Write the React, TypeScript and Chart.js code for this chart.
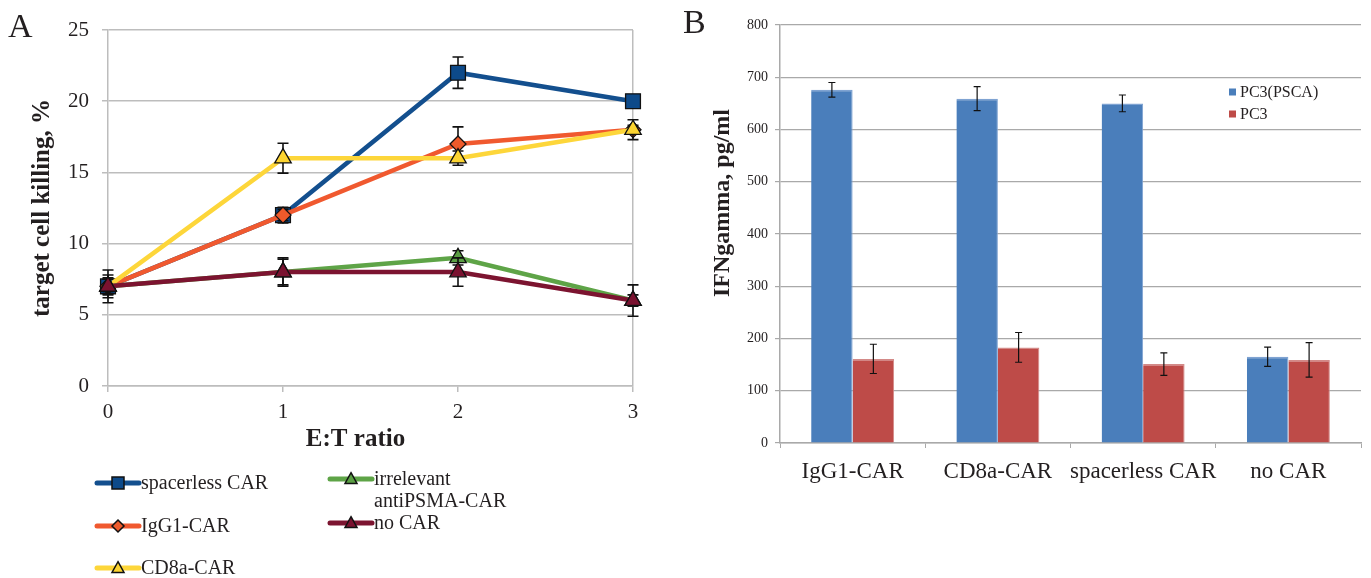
import React, { useEffect, useRef } from 'react';
import { Chart, registerables } from 'chart.js';

Chart.register(...registerables);

// ---------- Panel A data ----------
const ratioLabels = ['0', '1', '2', '3'];
const spacerless = [7, 12, 22, 20];
const spacerlessErr = [0.6, 0.55, 1.1, 0.3];
const igg1 = [7, 12, 17, 18];
const igg1Err = [0.5, 0.4, 1.2, 0.3];
const cd8a = [7, 16, 16, 18];
const cd8aErr = [0.5, 1.05, 0.5, 0.7];
const irrelevant = [7, 8, 9, 6];
const irrelevantErr = [0.8, 1.0, 0.5, 0.4];
const noCar = [7, 8, 8, 6];
const noCarErr = [1.15, 0.9, 1.0, 1.1];

// ---------- Panel B data ----------
const groups = ['IgG1-CAR', 'CD8a-CAR', 'spacerless CAR', 'no CAR'];
const pc3psca = [676, 659, 650, 165];
const pc3pscaErr = [14, 23, 16, 18.5];
const pc3 = [161, 183, 151, 159];
const pc3Err = [28, 28.5, 21.5, 33];

const SERIF = "'Liberation Serif', 'Times New Roman', serif";
const TXT = '#231f20';

function drawErrors(chart: any, i: number, o: any) {
  const ds: any = chart.data.datasets[i];
  const errs: number[] = ds.errorBars;
  if (!errs) return;
  const meta = chart.getDatasetMeta(i);
  if (meta.hidden) return;
  const ys = chart.scales[meta.yAxisID];
  const ctx = chart.ctx;
  ctx.save();
  ctx.strokeStyle = o.color || '#000';
  ctx.lineWidth = o.width || 1.2;
  meta.data.forEach((el: any, j: number) => {
    const v = ds.data[j];
    const e = errs[j];
    if (v == null || e == null) return;
    const x = el.x;
    const yt = ys.getPixelForValue(v + e);
    const yb = ys.getPixelForValue(v - e);
    const c = o.cap || 4;
    ctx.beginPath();
    ctx.moveTo(x, yt);
    ctx.lineTo(x, yb);
    ctx.moveTo(x - c, yt);
    ctx.lineTo(x + c, yt);
    ctx.moveTo(x - c, yb);
    ctx.lineTo(x + c, yb);
    ctx.stroke();
  });
  ctx.restore();
}

const errorBarPlugin = {
  id: 'errorBars',
  beforeDatasetDraw(chart: any, args: any, o: any) {
    if (o.mode === 'before') drawErrors(chart, args.index, o);
  },
  afterDatasetsDraw(chart: any, _a: any, o: any) {
    if (o.mode === 'after') chart.data.datasets.forEach((_d: any, i: number) => drawErrors(chart, i, o));
  },
};

const panelLetterPlugin = {
  id: 'panelLetter',
  afterDraw(chart: any, _a: any, o: any) {
    const ctx = chart.ctx;
    ctx.save();
    ctx.font = `${o.size}px ${SERIF}`;
    ctx.fillStyle = TXT;
    ctx.textBaseline = 'alphabetic';
    ctx.textAlign = 'left';
    ctx.fillText(o.text, o.x, o.y);
    ctx.restore();
  },
};

// axis titles placed slightly off-centre, as in the reference
const axisTitlePlugin = {
  id: 'axisTitles',
  afterDraw(chart: any, _a: any, o: any) {
    if (!o || !o.items) return;
    const ctx = chart.ctx;
    const ca = chart.chartArea;
    o.items.forEach((it: any) => {
      ctx.save();
      ctx.font = `bold ${it.size}px ${SERIF}`;
      ctx.fillStyle = TXT;
      ctx.textAlign = 'center';
      ctx.textBaseline = 'middle';
      if (it.vertical) {
        ctx.translate(it.x, ca.top + it.dy);
        ctx.rotate(-Math.PI / 2);
      } else {
        ctx.translate((ca.left + ca.right) / 2 + it.dx, ca.bottom + it.dy);
      }
      ctx.fillText(it.text, 0, 0);
      ctx.restore();
    });
  },
};

function drawMarker(ctx: any, style: string, x: number, y: number, r: number) {
  ctx.beginPath();
  if (style === 'rect') {
    ctx.rect(x - r, y - r, 2 * r, 2 * r);
  } else if (style === 'rectRot') {
    ctx.moveTo(x - r, y);
    ctx.lineTo(x, y - r);
    ctx.lineTo(x + r, y);
    ctx.lineTo(x, y + r);
    ctx.closePath();
  } else {
    ctx.moveTo(x, y - r * 1.05);
    ctx.lineTo(x + r, y + r * 0.75);
    ctx.lineTo(x - r, y + r * 0.75);
    ctx.closePath();
  }
  ctx.fill();
  ctx.stroke();
}

const lineLegendPlugin = {
  id: 'lineLegend',
  afterDraw(chart: any, _a: any, o: any) {
    const ctx = chart.ctx;
    ctx.save();
    ctx.font = `${o.fontSize}px ${SERIF}`;
    chart.data.datasets.forEach((ds: any, i: number) => {
      const [x, y] = o.slots[i];
      ctx.strokeStyle = ds.borderColor;
      ctx.lineWidth = 5;
      ctx.lineCap = 'round';
      ctx.beginPath();
      ctx.moveTo(x, y);
      ctx.lineTo(x + o.lineLen, y);
      ctx.stroke();
      ctx.lineCap = 'butt';
      ctx.fillStyle = ds.pointBackgroundColor;
      ctx.strokeStyle = '#111';
      ctx.lineWidth = 1.5;
      drawMarker(ctx, ds.pointStyle, x + o.lineLen / 2, y, 6);
      const words = String(ds.label).split(' ');
      const lines: string[] = [];
      let cur = '';
      words.forEach((w) => {
        const t = cur ? cur + ' ' + w : w;
        if (cur && ctx.measureText(t).width > o.maxWidth) {
          lines.push(cur);
          cur = w;
        } else cur = t;
      });
      if (cur) lines.push(cur);
      ctx.fillStyle = TXT;
      ctx.textBaseline = 'middle';
      ctx.textAlign = 'left';
      lines.forEach((ln, k) => ctx.fillText(ln, x + o.lineLen + 2, y + 1 + k * o.lineStep));
    });
    ctx.restore();
  },
};

const barLegendPlugin = {
  id: 'barLegend',
  afterDraw(chart: any, _a: any, o: any) {
    const ctx = chart.ctx;
    const ca = chart.chartArea;
    ctx.save();
    ctx.font = `${o.fontSize}px ${SERIF}`;
    ctx.textBaseline = 'middle';
    chart.data.datasets.forEach((ds: any, i: number) => {
      const x = ca.right + o.dx;
      const y = ca.top + o.dy + i * o.step;
      ctx.fillStyle = ds.backgroundColor;
      ctx.fillRect(x, y - 3.5, 7, 7);
      ctx.fillStyle = TXT;
      ctx.fillText(ds.label, x + 11, y + 1);
    });
    ctx.restore();
  },
};

const GRID_A = '#bdbdbd';
const GRID_B = '#a9a9a9';

function PanelA() {
  const ref = useRef<HTMLCanvasElement>(null);
  useEffect(() => {
    const mk = (label: string, data: number[], err: number[], color: string, fill: string, style: string, r: number, order: number) => ({
      label,
      data,
      errorBars: err,
      borderColor: color,
      backgroundColor: color,
      borderWidth: 4.5,
      pointStyle: style,
      pointRadius: r,
      pointBackgroundColor: fill,
      pointBorderColor: '#111',
      pointBorderWidth: 1.3,
      tension: 0,
      order,
    });
    const chart = new Chart(ref.current as HTMLCanvasElement, {
      type: 'line',
      data: {
        labels: ratioLabels,
        datasets: [
          mk('spacerless CAR', spacerless, spacerlessErr, '#134f8e', '#0d4a8a', 'rect', 10.5, 4),
          mk('IgG1-CAR', igg1, igg1Err, '#f0592f', '#ee5a2b', 'rectRot', 8, 3),
          mk('CD8a-CAR', cd8a, cd8aErr, '#fdd63a', '#fcd431', 'triangle', 9.5, 2),
          mk('irrelevant antiPSMA-CAR', irrelevant, irrelevantErr, '#5ea447', '#5a9e43', 'triangle', 9.5, 1),
          mk('no CAR', noCar, noCarErr, '#7c1430', '#7a1230', 'triangle', 9.5, 0),
        ] as any,
      },
      options: {
        animation: false,
        responsive: false,
        devicePixelRatio: 1,
        layout: { padding: { left: 0, right: 27, top: 30, bottom: 122 } },
        plugins: {
          legend: { display: false },
          tooltip: { enabled: false },
          errorBars: { mode: 'before', cap: 5.5, width: 1.6, color: '#111' },
          panelLetter: { text: 'A', x: 8, y: 37, size: 34 },
          axisTitles: { items: [{ text: 'E:T ratio', size: 25, dx: -15, dy: 54 }] },
          lineLegend: {
            slots: [[97, 483], [97, 526], [97, 568], [330, 479], [330, 523]],
            lineLen: 42,
            fontSize: 20,
            lineStep: 22,
            maxWidth: 160,
          },
        } as any,
        scales: {
          x: {
            type: 'category',
            offset: false,
            grid: {
              color: (c: any) => (c.index === ratioLabels.length - 1 ? GRID_A : 'rgba(0,0,0,0)'),
              lineWidth: 1.5,
              tickColor: GRID_A,
              tickLength: 6,
            },
            border: { color: GRID_A, width: 1.5 },
            ticks: { font: { family: SERIF, size: 21 }, color: TXT, padding: 8, maxRotation: 0 },
            afterFit: (s: any) => {
              s.height = 70;
            },
          },
          y: {
            min: 0,
            max: 25,
            ticks: { stepSize: 5, font: { family: SERIF, size: 21 }, color: TXT, padding: 13 },
            grid: { color: GRID_A, lineWidth: 1.5, tickLength: 6, tickColor: GRID_A },
            border: { color: GRID_A, width: 1.5 },
            title: {
              display: true,
              text: 'target cell killing, %',
              font: { family: SERIF, size: 25, weight: 'bold' },
              color: TXT,
              padding: { top: 28, bottom: 0 },
            },
            afterFit: (s: any) => {
              s.width = 108;
            },
          },
        },
      } as any,
      plugins: [errorBarPlugin, panelLetterPlugin, lineLegendPlugin, axisTitlePlugin],
    });
    return () => chart.destroy();
  }, []);
  return <canvas ref={ref} width={660} height={578} style={{ position: 'absolute', left: 0, top: 0 }} />;
}

function PanelB() {
  const ref = useRef<HTMLCanvasElement>(null);
  useEffect(() => {
    const chart = new Chart(ref.current as HTMLCanvasElement, {
      type: 'bar',
      data: {
        labels: groups,
        datasets: [
          {
            label: 'PC3(PSCA)',
            data: pc3psca,
            errorBars: pc3pscaErr,
            backgroundColor: '#4a7ebb',
            borderColor: '#7fa3d2',
            borderWidth: { top: 1.5, right: 1, left: 0, bottom: 0 },
            categoryPercentage: 0.571,
            barPercentage: 1,
          },
          {
            label: 'PC3',
            data: pc3,
            errorBars: pc3Err,
            backgroundColor: '#be4b48',
            borderColor: '#d38a88',
            borderWidth: { top: 1.5, right: 1, left: 0, bottom: 0 },
            categoryPercentage: 0.571,
            barPercentage: 1,
          },
        ] as any,
      },
      options: {
        animation: false,
        responsive: false,
        devicePixelRatio: 1,
        layout: { padding: { left: 0, right: 10, top: 25, bottom: 0 } },
        plugins: {
          legend: { display: false },
          tooltip: { enabled: false },
          errorBars: { mode: 'after', cap: 3.5, width: 1.2, color: '#111' },
          panelLetter: { text: 'B', x: 3, y: 33, size: 34 },
          barLegend: { dx: -132, dy: 67, step: 22, fontSize: 16 },
          axisTitles: { items: [{ text: 'IFNgamma, pg/ml', size: 24, vertical: true, x: 43, dy: 178 }] },
        } as any,
        scales: {
          x: {
            grid: { offset: true, drawOnChartArea: false, tickColor: GRID_B, tickLength: 5, lineWidth: 1 },
            border: { color: GRID_B, width: 1.5 },
            ticks: { font: { family: SERIF, size: 23 }, color: TXT, padding: 10, maxRotation: 0, autoSkip: false },
            afterFit: (s: any) => {
              s.height = 135;
            },
          },
          y: {
            min: 0,
            max: 800,
            ticks: { stepSize: 100, font: { family: SERIF, size: 14 }, color: TXT, padding: 7 },
            grid: { color: GRID_B, lineWidth: 1.2, tickLength: 5, tickColor: GRID_B },
            border: { color: GRID_B, width: 1.5 },
            afterFit: (s: any) => {
              s.width = 100;
            },
          },
        },
      } as any,
      plugins: [errorBarPlugin, panelLetterPlugin, barLegendPlugin, axisTitlePlugin],
    });
    return () => chart.destroy();
  }, []);
  return <canvas ref={ref} width={691} height={578} style={{ position: 'absolute', left: 680, top: 0 }} />;
}

export default function App() {
  return (
    <div style={{ position: 'absolute', left: 0, top: 0, width: 1371, height: 578, background: '#fff', overflow: 'hidden' }}>
      <PanelA />
      <PanelB />
    </div>
  );
}
